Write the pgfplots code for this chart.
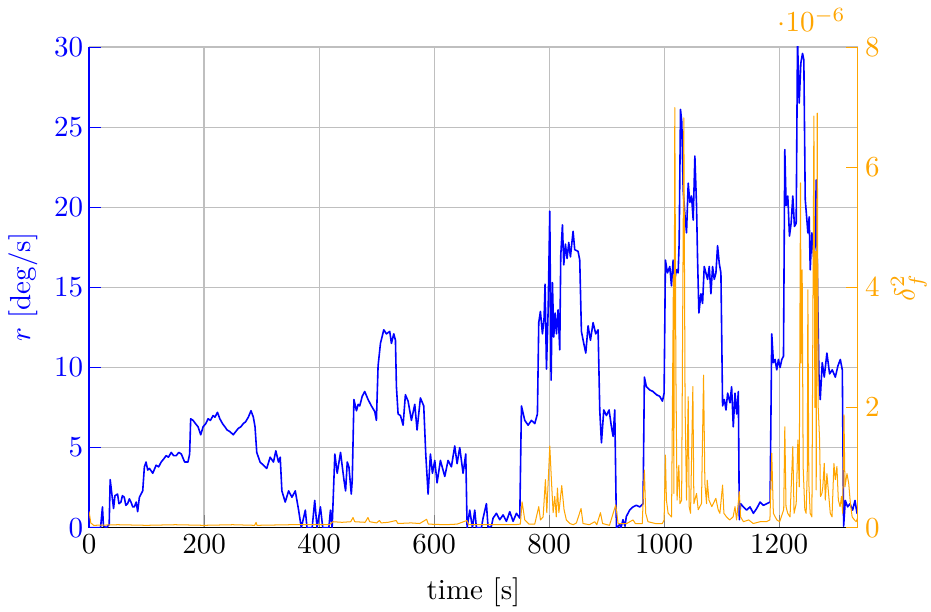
\documentclass[border=0pt]{standalone}
\usepackage{pgfplots}
\pgfplotsset{compat=1.18}
\usepackage{pgfplotstable}

\definecolor{rcol}{RGB}{0,0,255}
\definecolor{dcol}{RGB}{255,165,0}

% yaw rate r [deg/s]
\pgfplotstableread{
t r
0 0
20 0
23.3 1.3
25 0.1
30 0
35 0.2
36.7 3.0
42.6 1.2
45 2.0
49.6 2.1
52 1.5
55.4 1.6
58 2.0
61.2 1.9
64 1.4
67.1 1.5
70 1.8
72.9 1.6
76 1.3
78.7 1.3
82 1.6
84.5 1.0
87.5 1.9
93.3 2.3
96.2 3.8
99.1 4.1
102 3.6
105 3.7
110.8 3.4
116.6 3.9
121 3.8
125.4 4.1
130 4.3
134.1 4.5
138 4.4
142.9 4.7
147 4.5
151.6 4.5
156 4.7
160.4 4.6
166.2 4.1
172 4.1
174.9 4.6
176.7 6.8
180.8 6.7
185 6.5
189.5 6.3
194.2 5.8
198.3 6.3
203 6.5
207 6.8
211 6.7
215.7 7.0
219 6.9
223.3 7.2
227.4 6.8
232 6.5
236.2 6.3
240 6.1
244.9 6.0
250.7 5.8
255 6.0
259.5 6.2
264 6.3
268.2 6.5
272 6.6
277 6.9
281.6 7.3
285.7 6.9
288.6 6.3
291.6 4.7
297.4 4.1
303.2 3.9
309 3.7
314.9 4.4
320.7 4.1
324.8 4.8
329.4 4.1
332.4 4.4
335.3 2.3
341.1 1.6
347 2.3
352.8 1.9
358.6 2.3
364.4 1.1
369.1 0
376.1 1.1
379 0
388 0
392.4 1.7
396.5 0
402.3 1.3
406.4 0
417 0
419.8 1.1
422.7 0
427.4 4.6
431.5 3.4
437.3 4.7
443.2 3.0
446.1 2.3
449 4.1
451.9 3.8
456 2.1
457.7 3.0
460.6 8.0
465 7.3
468 7.7
470.7 7.6
475 8.2
479.4 8.5
485.2 8.0
491 7.6
496.8 7.25
499.7 6.7
502.6 10.1
506.7 11.5
512.5 12.35
517.1 12.1
522.9 12.25
525.8 11.5
529.9 12.1
532.8 11.7
534.5 8.8
537.4 7.1
541.5 7.0
546.1 6.4
550.1 8.3
554.8 7.9
560.6 6.7
566.4 7.7
570.4 6.1
576.2 8.1
582 7.6
585.5 4.6
589.6 2.1
593.6 4.6
597.1 3.4
601.2 4.2
605.2 2.8
611 4.2
618.6 3.2
624.3 4.2
630.1 3.8
635.9 5.1
640 4.0
644.6 5.0
650.4 3.4
655.1 4.6
657.4 0
662 1.1
666.7 0
670.7 1.1
673.6 0
682.3 0
685.2 0.6
691 1.5
693.9 0
699.7 0.1
702.6 0.6
708.4 0.9
714.2 0.5
720 0.8
725.8 0.4
731.6 1.0
737.4 0.4
743.2 0.9
749 0.6
751.9 7.6
757.7 6.7
763.5 6.4
769.3 6.7
775.1 6.5
779.7 7.1
782 12.8
784.9 13.5
788.4 12.1
791.3 13.1
793 15.2
795.4 9.9
798.3 13.5
801.2 19.75
803.5 9.2
805.8 15.3
808.1 11.9
810.4 13.4
812.8 12.1
815.6 13.6
818.5 11.1
820.3 17.0
823.2 18.9
825.5 16.4
828.4 17.7
831.3 16.8
834.2 17.8
837.1 16.9
841.7 18.5
844.6 17.35
850.4 17.25
853.3 16.7
856.2 12.25
860.3 11.5
863.8 10.9
867.8 12.6
871.9 11.7
876.5 12.8
881.1 12.1
885.2 12.35
888.1 7.35
891 5.3
895.1 7.35
899.7 7.0
904.3 7.35
908.4 6.3
911.3 5.7
914.2 7.35
917.1 0
922.7 0.2
925 0
928.5 0.5
932 0.1
934.3 0.7
940.1 1.1
945.9 1.3
951.7 1.4
957.6 1.3
963.4 1.5
965.7 9.4
969.2 8.8
975 8.6
980.8 8.5
986.6 8.3
992.4 8.2
997.1 7.9
1000 8.4
1002.3 16.7
1005.8 15.9
1009.9 16.3
1012.8 15.1
1015.7 16.7
1018.6 15.5
1021.5 16.1
1024.4 15.9
1026.2 17.8
1028.5 26.1
1030.8 25.3
1033.1 21.1
1036 19.6
1039 18.4
1041.9 21.5
1044.8 20.3
1047.7 20.7
1050.6 19.2
1053.5 23.2
1056.4 20.1
1058.1 16.9
1060.5 13.4
1064 14.6
1066.9 14.0
1069.8 16.3
1072.7 15.9
1075.6 15.5
1078.5 16.3
1081.4 14.6
1084.3 16.3
1087.2 15.5
1090.1 15.9
1093 17.6
1095.9 16.5
1098.8 15.9
1101.7 7.6
1104.7 8.0
1107.6 7.35
1110.5 8.4
1114.5 7.8
1117.4 8.8
1120.3 6.3
1123.3 8.4
1126.2 7.1
1129.1 8.5
1130.8 0.5
1133.1 1.5
1137.8 1.3
1143.6 1.1
1149.4 1.3
1155.2 0.9
1161 1.2
1166.9 1.6
1172.7 1.4
1178.5 1.5
1184.3 1.6
1187.2 12.1
1190.1 10.3
1193 10.5
1195.9 9.85
1198.8 10.5
1201.7 10.0
1204.7 10.5
1207.6 10.7
1209.9 23.6
1212.2 20.1
1215.1 20.7
1218 18.2
1220.9 19.0
1223.8 20.7
1226.7 18.8
1229.7 19.0
1232 30.5
1234.9 26.5
1237.8 29.0
1240.7 29.6
1243 29.2
1245.4 20.5
1248.3 19.2
1250 18.4
1252.3 19.4
1254.1 16.1
1257 18.4
1259.9 16.9
1262.8 17.6
1264.5 21.7
1266.9 14.9
1269.2 9.6
1271.5 8.0
1275 10.3
1278.5 9.4
1283.1 10.9
1287.8 9.6
1292.4 9.85
1297.7 9.4
1302.3 10.1
1306.4 10.5
1309.9 9.85
1312.2 0.1
1315.1 1.7
1319.2 1.3
1323.2 1.5
1327.9 1.1
1331.9 1.7
1335.5 0.9
1337.2 1.1
}\yawrate

% squared steering angle
\pgfplotstableread{
t d
0 0.27e-6
3 0.08e-6
8 0.04e-6
50 0.05e-6
100 0.04e-6
150 0.05e-6
200 0.04e-6
250 0.05e-6
288 0.04e-6
290.4 0.09e-6
292 0.04e-6
350 0.05e-6
400 0.05e-6
418 0.05e-6
424 0.1e-6
440 0.09e-6
455 0.1e-6
459 0.17e-6
462 0.1e-6
480 0.09e-6
485 0.17e-6
488 0.1e-6
500 0.08e-6
505 0.12e-6
508 0.08e-6
520 0.09e-6
534 0.12e-6
537 0.07e-6
560 0.08e-6
575 0.07e-6
587 0.14e-6
590 0.06e-6
620 0.05e-6
640 0.06e-6
657 0.12e-6
660 0.05e-6
700 0.05e-6
740 0.05e-6
750 0.06e-6
753 0.43e-6
757.7 0.13e-6
765 0.06e-6
775 0.06e-6
782 0.35e-6
785 0.13e-6
789.6 0.18e-6
793.6 0.8e-6
796 0.25e-6
801.2 1.36e-6
804 0.8e-6
807 0.25e-6
809.8 0.52e-6
812.5 0.18e-6
814.5 0.66e-6
817 0.25e-6
822 0.7e-6
826 0.3e-6
830 0.13e-6
836 0.07e-6
842 0.05e-6
847.5 0.08e-6
855.6 0.32e-6
859 0.07e-6
870 0.05e-6
879.4 0.1e-6
883 0.05e-6
889.3 0.25e-6
893 0.07e-6
905 0.04e-6
915.9 0.38e-6
920 0.07e-6
935 0.07e-6
946 0.13e-6
950 0.07e-6
962 0.07e-6
965.7 0.96e-6
968 0.24e-6
972 0.1e-6
985 0.07e-6
997 0.07e-6
1000 0.13e-6
1002.3 1.21e-6
1004 0.46e-6
1007 0.24e-6
1013 0.18e-6
1016.2 4.2e-6
1016.9 0.57e-6
1018.6 6.99e-6
1020.5 2.57e-6
1022.5 0.46e-6
1025.6 1.04e-6
1027.5 0.4e-6
1030.5 0.46e-6
1034.3 6.82e-6
1036.5 2.0e-6
1039 0.46e-6
1041.9 2.18e-6
1043.6 0.35e-6
1046 0.24e-6
1050 2.35e-6
1051.8 0.4e-6
1056.4 0.57e-6
1059.3 0.3e-6
1062 0.35e-6
1065 0.4e-6
1068.6 2.54e-6
1070.9 0.74e-6
1073.8 0.4e-6
1075 0.79e-6
1078 0.46e-6
1083 0.35e-6
1090 0.49e-6
1094 0.3e-6
1097 0.24e-6
1101.7 0.71e-6
1104 0.24e-6
1108.5 0.18e-6
1114 0.13e-6
1120 0.18e-6
1123.3 0.35e-6
1126 0.13e-6
1130.8 0.6e-6
1133 0.18e-6
1138 0.1e-6
1147 0.13e-6
1155 0.07e-6
1167 0.1e-6
1178 0.1e-6
1184 0.13e-6
1187.2 1.24e-6
1190 0.24e-6
1196 0.13e-6
1201 0.1e-6
1208 0.3e-6
1209.9 1.68e-6
1212 0.35e-6
1215 0.24e-6
1219 0.18e-6
1223.8 1.35e-6
1226 0.24e-6
1229.7 0.4e-6
1232.6 1.46e-6
1235 0.68e-6
1237.2 5.74e-6
1238.3 2.74e-6
1240.1 4.29e-6
1241.8 1.01e-6
1244.7 0.3e-6
1247 0.24e-6
1249 0.96e-6
1250 3.96e-6
1251.7 0.74e-6
1254 0.24e-6
1257 0.18e-6
1260.5 6.85e-6
1262.2 2.0e-6
1263.5 4.6e-6
1264.5 0.63e-6
1266.3 6.9e-6
1268 2.0e-6
1270.4 1.46e-6
1272 0.52e-6
1274.4 0.57e-6
1276 0.68e-6
1278.5 1.07e-6
1280.3 0.46e-6
1283.1 0.9e-6
1286 0.57e-6
1289 0.24e-6
1292 0.18e-6
1295.3 1.07e-6
1297.7 0.8e-6
1300.5 1.02e-6
1303 0.46e-6
1306 0.35e-6
1308.5 0.52e-6
1310.5 0.24e-6
1312.8 1.88e-6
1314.5 0.68e-6
1318 0.9e-6
1321 0.74e-6
1324 0.4e-6
1327 0.18e-6
1331 0.13e-6
1334 0.1e-6
1337.2 0.18e-6
}\steersq

\begin{document}
\begin{tikzpicture}
\begin{axis}[
  scale only axis,
  width=265pt, height=165.7pt,
  xmin=0, xmax=1337,
  ymin=0, ymax=30,
  axis y line*=left,
  axis x line*=bottom,
  x axis line style={-},
  y axis line style={-, rcol},
  tick align=inside,
  xtick={0,200,...,1200},
  ytick={0,5,...,30},
  /pgf/number format/1000 sep={},
  grid=major,
  title={(c) Yaw rate and steering $\delta_f^2$},
  title style={at={(0.5,1)}, anchor=base, yshift=16.6pt},
  xlabel={time [s]},
  xlabel style={yshift=-1.4pt},
  xticklabel style={yshift=1pt},
  ylabel={$r$ [deg/s]},
  ylabel shift=-1.1pt,
  ylabel style={text=rcol},
  yticklabel style={text=rcol, xshift=1.5pt},
  ytick style={rcol},
]
\addplot[rcol, line width=0.55pt, line join=round] table[x=t, y=r] {\yawrate};
\coordinate (sw) at (rel axis cs:0,0);
\coordinate (ne) at (rel axis cs:1,1);
\end{axis}
\begin{axis}[
  scale only axis,
  width=265pt, height=165.7pt,
  xmin=0, xmax=1337,
  ymin=0, ymax=8e-6,
  axis y line*=right,
  axis x line=none,
  y axis line style={-, dcol},
  tick align=inside,
  ytick={0,2e-6,4e-6,6e-6,8e-6},
  ylabel={$\delta_f^2$},
  ylabel shift=-3pt,
  ylabel style={text=dcol},
  yticklabel style={text=dcol, xshift=-1pt},
  ytick style={dcol},
  every y tick scale label/.append style={text=dcol},
]
\addplot[dcol, line width=0.35pt, line join=round] table[x=t, y=d] {\steersq};
\end{axis}
% page frame around the axis box
\pgfresetboundingbox
\path[use as bounding box] ([shift={(-30.7pt,-28.9pt)}]sw) rectangle ([shift={(25.2pt,16.2pt)}]ne);
\end{tikzpicture}
\end{document}
